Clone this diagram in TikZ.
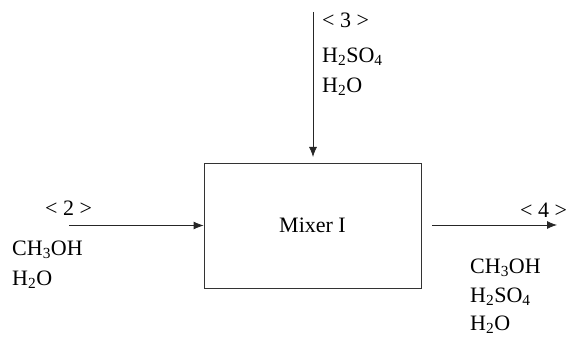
\documentclass[tikz,border=0pt]{standalone}
\usepackage{fontspec}
\setmainfont{Liberation Serif}
\usetikzlibrary{arrows.meta}
\tikzset{
  lbl/.style={anchor=west,inner sep=0pt,font=\fontsize{22}{26}\selectfont},
  flow/.style={draw=black!85,line width=0.8pt,-{Latex[length=10pt,width=8pt]}},
  unit/.style={draw=black!80,line width=0.8pt,minimum width=217pt,minimum height=125pt,inner sep=0pt,font=\fontsize{22}{26}\selectfont}
}
\begin{document}
\begin{tikzpicture}[x=1pt,y=1pt]
\useasboundingbox (0,0) rectangle (570,340);
\node[unit] (mixer) at (312.5,114.5) {Mixer I};
\coordinate (s2) at (69,114.5);
\coordinate (s3) at (313,328);
\coordinate (s3e) at (313,183);
\coordinate (s4s) at (432,115);
\coordinate (s4) at (557,115);
\draw[flow] (s2) -- (mixer.west);
\draw[flow] (s3) -- (s3e);
\draw[flow] (s4s) -- (s4);
\node[lbl] (l2) at (45,132) {< 2 >};
\node[lbl] (a1) at (12,90) {CH\textsubscript{3}OH};
\node[lbl] (a2) at (12,60) {H\textsubscript{2}O};
\node[lbl] (l3) at (322,320) {< 3 >};
\node[lbl] (b1) at (322,283) {H\textsubscript{2}SO\textsubscript{4}};
\node[lbl] (b2) at (322,253) {H\textsubscript{2}O};
\node[lbl] (l4) at (520,130) {< 4 >};
\node[lbl] (c1) at (470,72) {CH\textsubscript{3}OH};
\node[lbl] (c2) at (470,43) {H\textsubscript{2}SO\textsubscript{4}};
\node[lbl] (c3) at (470,15) {H\textsubscript{2}O};
\end{tikzpicture}
\end{document}
